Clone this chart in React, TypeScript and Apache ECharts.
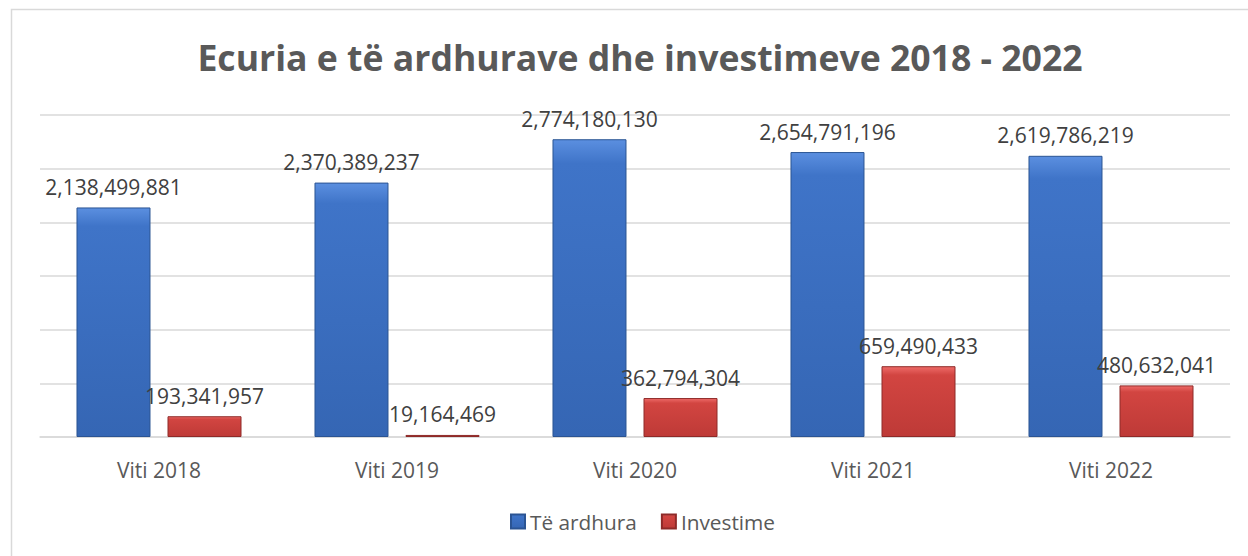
import React, { useEffect, useRef } from "react";
import * as echarts from "echarts";

const categories = ["Viti 2018", "Viti 2019", "Viti 2020", "Viti 2021", "Viti 2022"];
const teArdhura = [2138499881, 2370389237, 2774180130, 2654791196, 2619786219];
const investime = [193341957, 19164469, 362794304, 659490433, 480632041];
const seriesNames = ["Të ardhura", "Investime"];
const titleText = "Ecuria e të ardhurave dhe investimeve 2018 - 2022";

const FONT = "'Open Sans', 'DejaVu Sans', sans-serif";

const fmt = (v: number) => v.toLocaleString("en-US");

const blueFill = new echarts.graphic.LinearGradient(0, 0, 0, 1, [
  { offset: 0, color: "#5b8fe0" },
  { offset: 0.08, color: "#3f74c8" },
  { offset: 1, color: "#3566b4" },
]);
const redFill = new echarts.graphic.LinearGradient(0, 0, 0, 1, [
  { offset: 0, color: "#ee6b68" },
  { offset: 0.12, color: "#d24541" },
  { offset: 1, color: "#be3a37" },
]);

export default function App() {
  const ref = useRef<HTMLDivElement>(null);
  useEffect(() => {
    document.body.style.margin = "0";
    const chart = echarts.init(ref.current!, undefined, { renderer: "svg" });
    const labelStyle = {
      show: true,
      position: "top" as const,
      distance: 10,
      fontFamily: FONT,
      fontSize: 21,
      color: "#404040",
      formatter: (p: any) => fmt(p.value),
    };
    chart.setOption({
      animation: false,
      backgroundColor: "#ffffff",
      title: {
        text: titleText,
        left: 635,
        textAlign: "center",
        top: 34,
        textStyle: { fontFamily: FONT, fontSize: 35.6, fontWeight: "bold", color: "#595959" },
      },
      graphic: [
        {
          type: "rect",
          shape: { x: 11.5, y: 9.5, width: 1260, height: 560 },
          style: { fill: "none", stroke: "#d9d9d9", lineWidth: 1.5 },
          z: -1,
        },
      ],
      legend: {
        bottom: 19,
        left: 505,
        itemWidth: 14,
        itemHeight: 14,
        itemGap: 24,
        icon: "rect",
        textStyle: { fontFamily: FONT, fontSize: 20.8, color: "#595959", padding: [0, 0, 0, 0] },
        data: seriesNames,
      },
      grid: { left: 40, right: 18, top: 115, bottom: 119, containLabel: false },
      xAxis: {
        type: "category",
        data: categories,
        axisLine: { show: true, lineStyle: { color: "#d9d9d9", width: 1.5 } },
        axisTick: { show: false },
        axisLabel: { fontFamily: FONT, fontSize: 21, color: "#595959", margin: 22 },
      },
      yAxis: {
        type: "value",
        min: 0,
        max: 3000000000,
        interval: 500000000,
        axisLabel: { show: false },
        axisLine: { show: false },
        axisTick: { show: false },
        splitLine: { lineStyle: { color: "#d9d9d9", width: 1.5 } },
      },
      series: [
        {
          name: seriesNames[0],
          type: "bar",
          data: teArdhura,
          barWidth: 74,
          barGap: "23%",
          itemStyle: { color: blueFill, borderColor: "#2b5493", borderWidth: 1 },
          label: labelStyle,
        },
        {
          name: seriesNames[1],
          type: "bar",
          data: investime,
          barWidth: 74,
          barGap: "23%",
          itemStyle: { color: redFill, borderColor: "#8e2a28", borderWidth: 1 },
          label: labelStyle,
        },
      ],
    });
    return () => chart.dispose();
  }, []);
  return <div ref={ref} style={{ width: 1248, height: 556 }} />;
}
